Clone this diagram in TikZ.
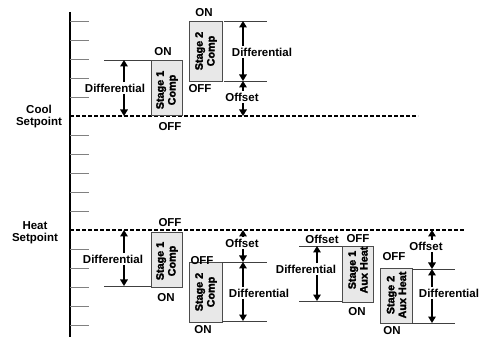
\documentclass[tikz,border=0pt]{standalone}
\usepackage{fontspec}
\setmainfont{Liberation Sans}
\newfontfamily\heavyfont{Liberation Sans}[BoldFeatures={FakeBold=2}]
\usetikzlibrary{arrows.meta}
\begin{document}
\begin{tikzpicture}[x=1pt,y=-1pt,
  every node/.style={font=\bfseries\fontsize{11.5}{12}\selectfont, inner sep=1.5pt},
  tick/.style={draw=gray, line width=0.9pt},
  refline/.style={draw=black!75, line width=0.8pt},
  setline/.style={draw=black, line width=1.5pt, dash pattern=on 4pt off 2pt},
  arr/.style={draw=black, line width=1.7pt, -{Triangle[width=7.5pt,length=6.5pt]}},
  stagebox/.style={draw=black!70, line width=0.9pt, fill=black!9},
  boxtext/.style={rotate=90, align=center, font=\heavyfont\bfseries\fontsize{10.8}{11.8}\selectfont}
]
\useasboundingbox (0,0) rectangle (483,337);
% axis
\coordinate (axtop) at (70,12);
\coordinate (axbot) at (70,337);
\draw[line width=2pt] (axtop) -- (axbot);
\foreach \k in {0,1,2,3,4,6,7,8,9,10,12,13,14,15,16}{
  \draw[tick] (70,21+19*\k) -- (89,21+19*\k);
}
% setpoints
\coordinate (coolL) at (70,116);
\coordinate (coolR) at (418,116);
\coordinate (heatL) at (70,230);
\coordinate (heatR) at (465,230);
\draw[setline] (coolL) -- (coolR);
\draw[setline] (heatL) -- (heatR);
\node[align=center] (coolsp) at (39,117) {Cool\\Setpoint};
\node[align=center] (heatsp) at (35,233) {Heat\\Setpoint};

% ---------- Cool stage 1 ----------
\node[stagebox, minimum width=31pt, minimum height=55pt, inner sep=0pt] (c1) at (166.5,87.5) {};
\node[boxtext] (c1t) at (167,90) {Stage 1\\Comp};
\node (c1on) at (163,52) {ON};
\node (c1off) at (170,127) {OFF};
\coordinate (c1la) at (104,60); \coordinate (c1lb) at (151,60);
\draw[refline] (c1la) -- (c1lb);
\node (c1d) at (115,88) {Differential};
\coordinate (c1top) at (124,60); \coordinate (c1bot) at (124,116);
\draw[arr] (c1top |- c1d.north) -- (c1top);
\draw[arr] (c1bot |- c1d.south) -- (c1bot);

% ---------- Cool stage 2 ----------
\node[stagebox, minimum width=33pt, minimum height=60pt, inner sep=0pt] (c2) at (205.5,51) {};
\node[boxtext] (c2t) at (206,51) {Stage 2\\Comp};
\node (c2on) at (204,13) {ON};
\node (c2off) at (200,89) {OFF};
\coordinate (c2la) at (224,21); \coordinate (c2lb) at (267,21);
\coordinate (c2ma) at (224,81); \coordinate (c2mb) at (267,81);
\draw[refline] (c2la) -- (c2lb);
\draw[refline] (c2ma) -- (c2mb);
\node (c2d) at (262,52) {Differential};
\node (c2o) at (242,97) {Offset};
\coordinate (c2top) at (243,21); \coordinate (c2mid) at (243,81); \coordinate (c2bot) at (243,116);
\draw[arr] (c2top |- c2d.north) -- (c2top);
\draw[arr] (c2mid |- c2d.south) -- (c2mid);
\draw[arr] (c2mid |- c2o.north) -- (c2mid);
\draw[arr] (c2bot |- c2o.south) -- (c2bot);

% ---------- Heat stage 1 ----------
\node[stagebox, minimum width=31pt, minimum height=55pt, inner sep=0pt] (h1) at (166.5,259.5) {};
\node[boxtext] (h1t) at (167,261) {Stage 1\\Comp};
\node (h1off) at (170,223) {OFF};
\node (h1on) at (166,298) {ON};
\coordinate (h1la) at (104,286); \coordinate (h1lb) at (151,286);
\draw[refline] (h1la) -- (h1lb);
\node (h1d) at (113,259) {Differential};
\coordinate (h1top) at (124,230); \coordinate (h1bot) at (124,286);
\draw[arr] (h1top |- h1d.north) -- (h1top);
\draw[arr] (h1bot |- h1d.south) -- (h1bot);

% ---------- Heat stage 2 ----------
\node[stagebox, minimum width=33pt, minimum height=60pt, inner sep=0pt] (h2) at (205.5,292) {};
\node[boxtext] (h2t) at (206,292) {Stage 2\\Comp};
\node (h2off) at (202,261) {OFF};
\node (h2on) at (203,330) {ON};
\coordinate (h2la) at (222,262); \coordinate (h2lb) at (267,262);
\coordinate (h2ma) at (222,321); \coordinate (h2mb) at (267,321);
\draw[refline] (h2la) -- (h2lb);
\draw[refline] (h2ma) -- (h2mb);
\node (h2o) at (242,243) {Offset};
\node (h2d) at (259,293) {Differential};
\coordinate (h2top) at (243,230); \coordinate (h2mid) at (243,262); \coordinate (h2bot) at (243,321);
\draw[arr] (h2top |- h2o.north) -- (h2top);
\draw[arr] (h2mid |- h2o.south) -- (h2mid);
\draw[arr] (h2mid |- h2d.north) -- (h2mid);
\draw[arr] (h2bot |- h2d.south) -- (h2bot);

% ---------- Aux heat stage 1 ----------
\node[stagebox, minimum width=31pt, minimum height=56pt, inner sep=0pt] (a1) at (357.5,274) {};
\node[boxtext] (a1t) at (358,270) {Stage 1\\Aux Heat};
\node (a1o) at (322,239) {Offset};
\node (a1off) at (358,239) {OFF};
\node (a1on) at (357,312) {ON};
\coordinate (a1la) at (299,246); \coordinate (a1lb) at (342,246);
\coordinate (a1ma) at (299,301); \coordinate (a1mb) at (342,301);
\draw[refline] (a1la) -- (a1lb);
\draw[refline] (a1ma) -- (a1mb);
\node (a1d) at (306,269) {Differential};
\coordinate (a1top) at (317,246); \coordinate (a1bot) at (317,301);
\draw[arr] (a1top |- a1d.north) -- (a1top);
\draw[arr] (a1bot |- a1d.south) -- (a1bot);

% ---------- Aux heat stage 2 ----------
\node[stagebox, minimum width=32pt, minimum height=55pt, inner sep=0pt] (a2) at (396,295.5) {};
\node[boxtext] (a2t) at (396.5,295) {Stage 2\\Aux Heat};
\node (a2off) at (394,257) {OFF};
\node (a2on) at (392,330.5) {ON};
\coordinate (a2la) at (412,269); \coordinate (a2lb) at (455,269);
\coordinate (a2ma) at (412,323); \coordinate (a2mb) at (455,323);
\draw[refline] (a2la) -- (a2lb);
\draw[refline] (a2ma) -- (a2mb);
\node (a2o) at (426,246) {Offset};
\node (a2d) at (449,293) {Differential};
\coordinate (a2top) at (432,230); \coordinate (a2mid) at (432,269); \coordinate (a2bot) at (432,323);
\draw[arr] (a2top |- a2o.north) -- (a2top);
\draw[arr] (a2mid |- a2o.south) -- (a2mid);
\draw[arr] (a2mid |- a2d.north) -- (a2mid);
\draw[arr] (a2bot |- a2d.south) -- (a2bot);
\end{tikzpicture}
\end{document}
